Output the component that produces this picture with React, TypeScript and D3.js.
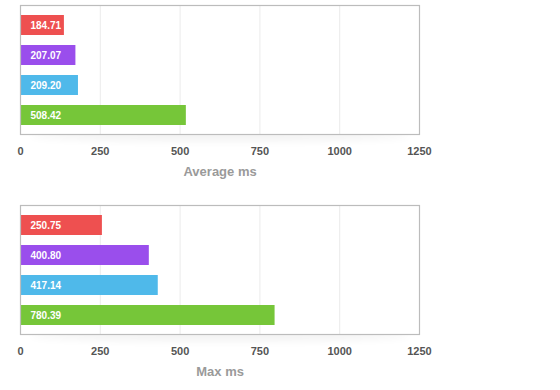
import React from 'react';
import * as d3 from 'd3';

// rows, top to bottom
const series = ['red', 'purple', 'blue', 'green'];
const colors = ['#ee5050', '#9a4eec', '#4fb9ea', '#76c639'];

const avgLabels = ['184.71', '207.07', '209.20', '508.42'];
const avgBars = [136, 172, 180, 518];

const maxLabels = ['250.75', '400.80', '417.14', '780.39'];
const maxBars = [255, 402, 430, 796];

const ticks = [0, 250, 500, 750, 1000, 1250];

const W = 560;
const H = 390;

const x = d3.scaleLinear().domain([0, 1250]).range([20.5, 419.5]);

const BarPanel = ({ top, values, labels, title }) => {
  const y = d3.scaleBand()
    .domain(series)
    .range([top, top + 130])
    .paddingInner(1 / 3)
    .paddingOuter(1 / 3);

  return (
    <g>
      {/* soft shadow under the frame */}
      <ellipse cx={220} cy={top + 130} rx={190} ry={6} fill="#000" opacity={0.05} filter="url(#blur)" />
      <rect x={x(0)} y={top + 0.5} width={x(1250) - x(0)} height={129} fill="#fff" />
      {ticks.slice(1, -1).map(t => (
        <line key={t} x1={x(t)} x2={x(t)} y1={top} y2={top + 130} stroke="#ebebeb" strokeWidth={1} />
      ))}
      {series.map((s, i) => (
        <g key={s}>
          <rect x={x(0)} y={y(s)} width={x(values[i]) - x(0)} height={y.bandwidth()} fill={colors[i]} />
          <text
            x={x(0) + 10}
            y={y(s) + y.bandwidth() / 2}
            dy="0.35em"
            fill="#fff"
            fontSize={10}
            fontWeight="bold"
          >{labels[i]}</text>
        </g>
      ))}
      <rect x={x(0)} y={top + 0.5} width={x(1250) - x(0)} height={129} fill="none" stroke="#bcbcbc" strokeWidth={1.2} />
      {ticks.map(t => (
        <text key={t} x={x(t)} y={top + 146} dy="0.35em" textAnchor="middle" fill="#555" fontSize={11} fontWeight="bold">{t}</text>
      ))}
      <text x={x(500) + 40} y={top + 166} dy="0.35em" textAnchor="middle" fill="#9a9a9a" fontSize={13} fontWeight="bold">{title}</text>
    </g>
  );
};

export default function App() {
  return (
    <svg
      width={W}
      height={H}
      style={{ position: 'absolute', left: 0, top: 0, background: '#fff' }}
      fontFamily="'Liberation Sans', Arial, Helvetica, sans-serif"
    >
      <defs>
        <filter id="blur" x="-20%" y="-200%" width="140%" height="500%">
          <feGaussianBlur stdDeviation="4" />
        </filter>
      </defs>
      <BarPanel top={5} values={avgBars} labels={avgLabels} title="Average ms" />
      <BarPanel top={205} values={maxBars} labels={maxLabels} title="Max ms" />
    </svg>
  );
}
